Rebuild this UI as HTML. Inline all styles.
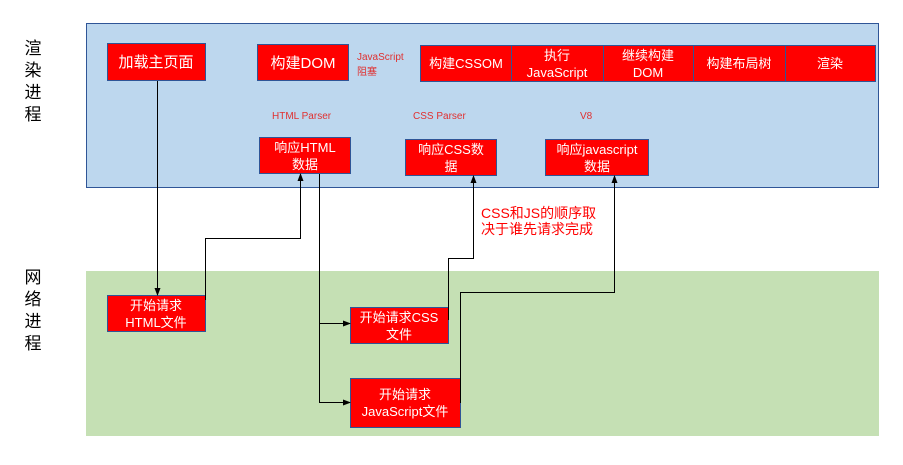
<!DOCTYPE html>
<html><head><meta charset="utf-8"><style>
body{margin:0;background:#fff}
svg{display:block}
text{font-family:"Liberation Sans","Noto Sans CJK SC",sans-serif}
</style></head><body>
<svg width="903" height="465" viewBox="0 0 903 465" xmlns="http://www.w3.org/2000/svg">
<defs><marker id="a" markerWidth="8" markerHeight="8" refX="7" refY="4" orient="auto" markerUnits="userSpaceOnUse"><path d="M0,1 L8,4 L0,7z" fill="#000"/></marker></defs>
<rect x="86.5" y="23.5" width="792" height="164" fill="#bdd7ee" stroke="#2f5597" stroke-width="1"/>
<rect x="86" y="271" width="793" height="165" fill="#c5e0b4"/>
<g font-size="17" fill="#000" text-anchor="middle">
<text x="33" y="54">渲</text><text x="33" y="76">染</text><text x="33" y="98">进</text><text x="33" y="120">程</text>
<text x="33" y="283">网</text><text x="33" y="305">络</text><text x="33" y="327">进</text><text x="33" y="349">程</text>
</g>
<g fill="#ff0000" stroke="#2f5597" stroke-width="1">
<rect x="107.5" y="43.5" width="98" height="37"/>
<rect x="257.5" y="44.5" width="91" height="36"/>
<rect x="420.5" y="45.5" width="455" height="36"/>
<rect x="259.5" y="137.5" width="91" height="36"/>
<rect x="405.5" y="139.5" width="91" height="36"/>
<rect x="545.5" y="139.5" width="103" height="36"/>
<rect x="107.5" y="295.5" width="98" height="36"/>
<rect x="350.5" y="307.5" width="98" height="36"/>
<rect x="350.5" y="378.5" width="110" height="49"/>
</g>
<g stroke="#2f5597" stroke-width="1">
<line x1="511.5" y1="45" x2="511.5" y2="82"/><line x1="603.5" y1="45" x2="603.5" y2="82"/>
<line x1="693.5" y1="45" x2="693.5" y2="82"/><line x1="785.5" y1="45" x2="785.5" y2="82"/>
</g>
<g fill="#fff" text-anchor="middle" font-size="13">
<text x="156" y="67" font-size="15">加载主页面</text>
<text x="303" y="68" font-size="15">构建DOM</text>
<text x="466" y="68">构建CSSOM</text>
<text x="557" y="60">执行</text><text x="557" y="77">JavaScript</text>
<text x="648" y="60">继续构建</text><text x="648" y="77">DOM</text>
<text x="739" y="68">构建布局树</text>
<text x="830" y="68">渲染</text>
<text x="305" y="152">响应HTML</text><text x="305" y="169">数据</text>
<text x="451" y="154">响应CSS数</text><text x="451" y="171">据</text>
<text x="597" y="154">响应javascript</text><text x="597" y="171">数据</text>
<text x="156" y="310">开始请求</text><text x="156" y="327">HTML文件</text>
<text x="399" y="322">开始请求CSS</text><text x="399" y="339">文件</text>
<text x="405" y="399">开始请求</text><text x="405" y="416">JavaScript文件</text>
</g>
<g fill="#e03030" font-size="10">
<text x="357" y="60">JavaScript</text><text x="357" y="75">阻塞</text>
<text x="272" y="119">HTML Parser</text>
<text x="413" y="119">CSS Parser</text>
<text x="580" y="119">V8</text>
</g>
<g fill="#ff0000" font-size="14"><text x="481" y="218">CSS和JS的顺序取</text><text x="481" y="234">决于谁先请求完成</text></g>
<g stroke="#000" stroke-width="1" fill="none">
<path d="M157.5,81 V295" marker-end="url(#a)"/>
<path d="M205.5,300 V238.5 H300.5 V174" marker-end="url(#a)"/>
<path d="M319.5,174 V402.5 H350" marker-end="url(#a)"/>
<path d="M319.5,323.5 H350" marker-end="url(#a)"/>
<path d="M448.5,320 V258.5 H473.5 V176" marker-end="url(#a)"/>
<path d="M460.5,403 V292.5 H614.5 V176" marker-end="url(#a)"/>
</g>
</svg>
</body></html>
